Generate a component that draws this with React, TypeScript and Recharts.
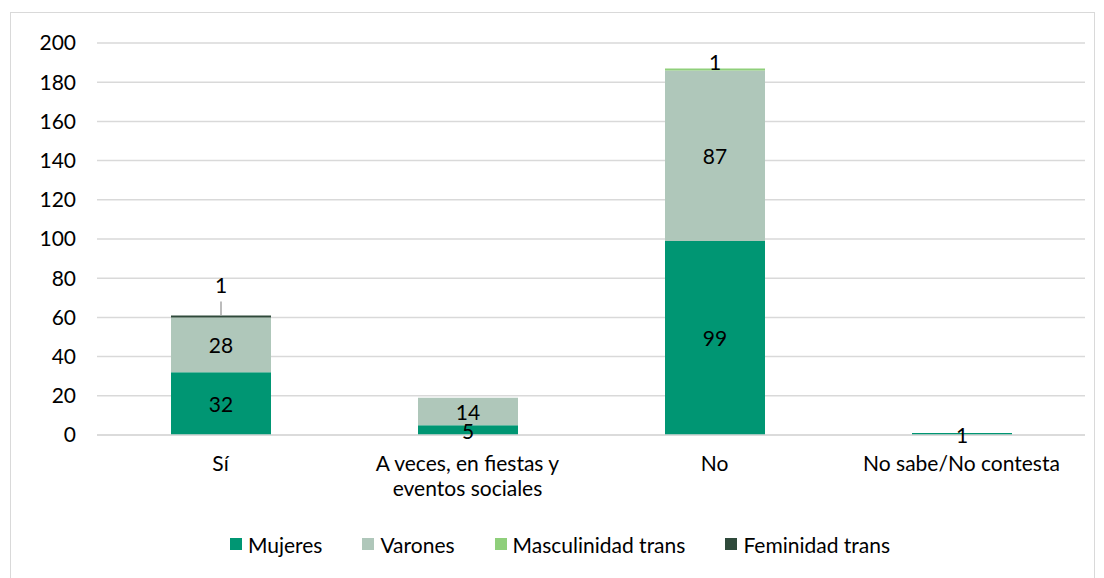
import { BarChart, Bar, XAxis, YAxis, CartesianGrid, Legend, LabelList, Text } from 'recharts'

const categories = ['Sí', 'A veces, en fiestas y eventos sociales', 'No', 'No sabe/No contesta']
const mujeres = [32, 5, 99, 1]
const varones = [28, 14, 87, 0]
const masculinidadTrans = [0, 0, 1, 0]
const feminidadTrans = [1, 0, 0, 0]
const yTicks = [0, 20, 40, 60, 80, 100, 120, 140, 160, 180, 200]

const series = [
  { key: 'mujeres', name: 'Mujeres', color: '#009673' },
  { key: 'varones', name: 'Varones', color: '#afc7ba' },
  { key: 'masc', name: 'Masculinidad trans', color: '#8fcf7b' },
  { key: 'fem', name: 'Feminidad trans', color: '#2f4a3b' },
]

const data = categories.map((name, i) => ({
  name,
  mujeres: mujeres[i],
  varones: varones[i],
  masc: masculinidadTrans[i],
  fem: feminidadTrans[i],
}))

const FONT = 'Lato, "Liberation Sans", sans-serif'
const FS = 21

// centred label, hidden for zero values
function CenterLabel(props: any) {
  const { x, y, width, height, value } = props
  if (!value) return null
  return (
    <text x={x + width / 2} y={y + height / 2} textAnchor="middle" dominantBaseline="central"
      fontSize={FS} fill="#000" fontFamily={FONT}>
      {value}
    </text>
  )
}

// small slices: label above the bar
function TopLabel(props: any) {
  const { x, y, width, value } = props
  if (!value) return null
  return (
    <text x={x + width / 2} y={y - 7} textAnchor="middle" dominantBaseline="central"
      fontSize={FS} fill="#000" fontFamily={FONT}>
      {value}
    </text>
  )
}

// label pushed up with a leader line
function CalloutLabel(props: any) {
  const { x, y, width, value } = props
  if (!value) return null
  const cx = x + width / 2
  return (
    <g>
      <line x1={cx} y1={y} x2={cx} y2={y - 14} stroke="#a6a6a6" strokeWidth={1.5} />
      <text x={cx} y={y - 31} textAnchor="middle" dominantBaseline="central"
        fontSize={FS} fill="#000" fontFamily={FONT}>
        {value}
      </text>
    </g>
  )
}

function CategoryTick(props: any) {
  const { x, y, payload } = props
  return (
    <Text x={x} y={y + 13} width={165} textAnchor="middle" verticalAnchor="start"
      style={{ fontSize: FS, fontFamily: FONT }} fill="#000" lineHeight={25}>
      {payload.value}
    </Text>
  )
}

function LegendContent() {
  return (
    <div style={{ display: 'flex', justifyContent: 'center', gap: 40, fontFamily: FONT, fontSize: FS, color: '#000', height: 26, alignItems: 'center', marginTop: -4, paddingLeft: 8 }}>
      {series.map(s => (
        <div key={s.key} style={{ display: 'flex', alignItems: 'center' }}>
          <span style={{ display: 'inline-block', width: 12, height: 12, background: s.color, marginRight: 6 }} />
          <span>{s.name}</span>
        </div>
      ))}
    </div>
  )
}

export default function App() {
  return (
    <div style={{ marginLeft: 2, marginTop: 4, width: 1083, height: 572, border: '1px solid #d9d9d9', background: '#fff' }}>
      <BarChart width={1083} height={572} data={data} barSize={100}
        margin={{ top: 30, right: 9, bottom: 24, left: 16 }}>
        <CartesianGrid vertical={false} stroke="#d9d9d9" strokeWidth={1.5} />
        <XAxis dataKey="name" tick={<CategoryTick />} tickLine={false}
          axisLine={{ stroke: '#d9d9d9', strokeWidth: 1.5 }} height={100} interval={0} />
        <YAxis domain={[0, 200]} ticks={yTicks} tickLine={false} axisLine={false} width={70}
          tick={{ fill: '#000', fontSize: FS, fontFamily: FONT }} tickMargin={15} />
        <Legend verticalAlign="bottom" content={<LegendContent />} height={26} />
        <Bar dataKey="mujeres" name="Mujeres" stackId="a" fill={series[0].color} isAnimationActive={false}>
          <LabelList dataKey="mujeres" content={<CenterLabel />} />
        </Bar>
        <Bar dataKey="varones" name="Varones" stackId="a" fill={series[1].color} isAnimationActive={false}>
          <LabelList dataKey="varones" content={<CenterLabel />} />
        </Bar>
        <Bar dataKey="masc" name="Masculinidad trans" stackId="a" fill={series[2].color} isAnimationActive={false}>
          <LabelList dataKey="masc" content={<TopLabel />} />
        </Bar>
        <Bar dataKey="fem" name="Feminidad trans" stackId="a" fill={series[3].color} isAnimationActive={false}>
          <LabelList dataKey="fem" content={<CalloutLabel />} />
        </Bar>
      </BarChart>
    </div>
  )
}
